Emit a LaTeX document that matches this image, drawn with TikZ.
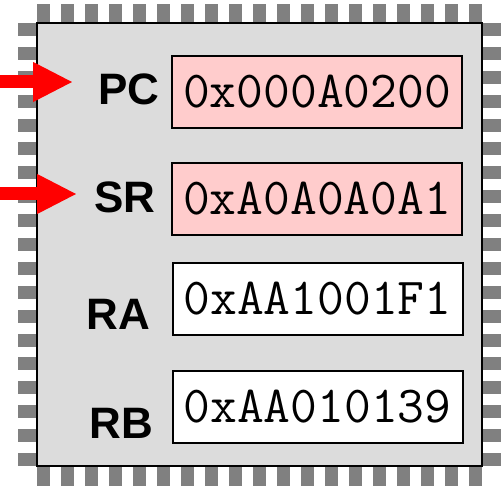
\documentclass[tikz,border=0pt]{standalone}
\usepackage{fontspec}
\setmainfont{Liberation Sans}
\usetikzlibrary{arrows.meta, positioning}
\definecolor{chipgray}{RGB}{220,220,220}
\definecolor{pingray}{RGB}{128,128,128}
\definecolor{regpink}{RGB}{255,204,204}

\begin{document}
\begin{tikzpicture}[x=1pt, y=-1pt]
            \tikzstyle{pinbox}=[fill=pingray]
            \tikzstyle{reg}=[draw=black, line width=2pt, minimum width=290pt, minimum height=72pt, inner sep=0pt, font=\ttfamily\fontsize{52}{52}\selectfont]
            \tikzstyle{regon}=[reg, fill=regpink]
            \tikzstyle{regoff}=[reg, fill=white]
            \tikzstyle{regname}=[anchor=base, inner sep=0pt, font=\bfseries\fontsize{44}{44}\selectfont]
            \tikzstyle{feed}=[draw=red, line width=13pt, -{Triangle[length=40pt, width=37pt]}]
            \useasboundingbox (0,0) rectangle (501,489);
            \foreach \k in {0,...,18}{
                \fill[pinbox] (37+24*\k,4) rectangle ++(13,19);
                \fill[pinbox] (37+24*\k,466) rectangle ++(13,20);
                \fill[pinbox] (18,23+23.89*\k) rectangle ++(19,13);
                \fill[pinbox] (482,23+23.89*\k) rectangle ++(19,13);
            }
            \node[draw, fill=chipgray, line width=1.5pt, minimum width=445pt, minimum height=443pt, inner sep=0pt] (chip) at (259.5,244.5) {};
            \node[regon] (pc) at (317,92) {0x000A0200};
            \node[regon] (sr) at (317,199) {0xA0A0A0A1};
            \node[regoff] (ra) at (317.5,299) {0xAA1001F1};
            \node[regoff] (rb) at (317.5,407) {0xAA010139};
            \node[regname] (pcname) at (129,105) {PC};
            \node[regname] (srname) at (125,213) {SR};
            \node[regname] (raname) at (118.5,329) {RA};
            \node[regname] (rbname) at (121.5,438) {RB};
            \coordinate (pcin) at (0,82);
            \coordinate (pctip) at (73,82);
            \coordinate (srin) at (0,194);
            \coordinate (srtip) at (77,194);
            \draw[feed] (pcin) -- (pctip);
            \draw[feed] (srin) -- (srtip);
\end{tikzpicture}
\end{document}
